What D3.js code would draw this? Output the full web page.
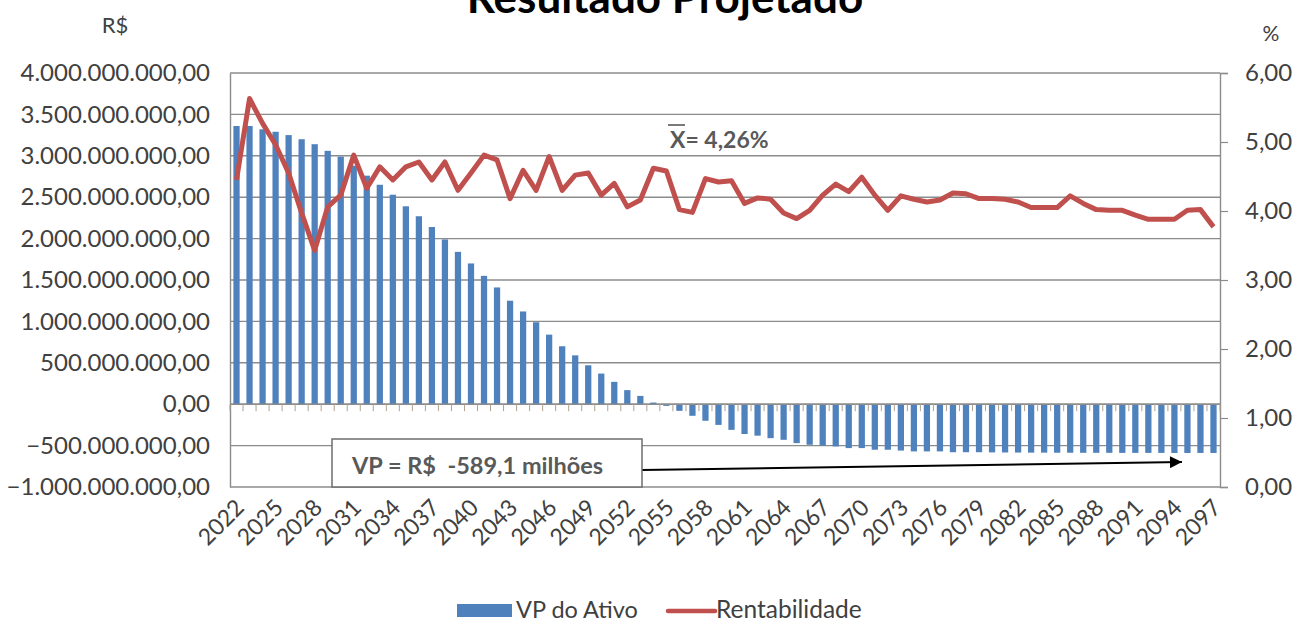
<!DOCTYPE html>
<html><head><meta charset="utf-8">
<script src="https://cdn.jsdelivr.net/npm/d3@7"></script>
<style>
html,body{margin:0;padding:0;background:#fff;}
svg{display:block;font-family:Lato,"Open Sans",sans-serif;}
</style></head>
<body><svg id="chart" width="1295" height="622"></svg>
<script>
const years = [2022,2023,2024,2025,2026,2027,2028,2029,2030,2031,
2032,2033,2034,2035,2036,2037,2038,2039,2040,2041,
2042,2043,2044,2045,2046,2047,2048,2049,2050,2051,
2052,2053,2054,2055,2056,2057,2058,2059,2060,2061,
2062,2063,2064,2065,2066,2067,2068,2069,2070,2071,
2072,2073,2074,2075,2076,2077,2078,2079,2080,2081,
2082,2083,2084,2085,2086,2087,2088,2089,2090,2091,
2092,2093,2094,2095,2096,2097];
// VP do Ativo, R$ millions
const vpAtivo = [3360,3360,3320,3290,3250,3200,3140,3060,2990,2880,
2760,2650,2530,2390,2270,2140,1990,1840,1700,1550,
1410,1250,1120,990,840,700,590,470,370,270,
170,100,20,-20,-80,-140,-200,-250,-310,-360,
-380,-410,-430,-470,-490,-500,-510,-530,-530,-550,
-550,-560,-570,-570,-570,-580,-580,-580,-582,-583,
-584,-585,-585,-586,-586,-587,-587,-587,-588,-588,
-588,-588,-589,-589,-589,-589];
// Rentabilidade, %
const rentabilidade = [4.45,5.63,5.27,4.96,4.55,3.97,3.43,4.06,4.23,4.81,
4.33,4.64,4.45,4.64,4.71,4.45,4.71,4.30,4.55,4.81,
4.74,4.18,4.59,4.30,4.79,4.30,4.52,4.55,4.23,4.40,
4.06,4.16,4.62,4.58,4.02,3.98,4.47,4.42,4.44,4.11,
4.19,4.17,3.97,3.89,4.01,4.23,4.39,4.28,4.49,4.23,
4.01,4.22,4.17,4.13,4.16,4.26,4.25,4.18,4.18,4.17,
4.13,4.05,4.05,4.05,4.22,4.11,4.02,4.01,4.01,3.94,
3.88,3.88,3.88,4.01,4.02,3.77];
const leftTicks = [-1000,-500,0,500,1000,1500,2000,2500,3000,3500,4000];
const rightTicks = [0,1,2,3,4,5,6];
const labelYears = years.filter((y,i)=> i%3===0);
const title = "Resultado Projetado";
const meanLabel = "= 4,26%";
const boxLabel = "VP = R$  -589,1 milhões";
const seriesNames = ["VP do Ativo","Rentabilidade"];

const svg = d3.select("#chart");
const L = 230, R = 1220, T = 73, B = 487;
const blue = "#4F81BD", red = "#C0504D", grid = "#8c8c8c", txt = "#404040";

const x = d3.scaleBand().domain(years).range([L,R]).paddingInner(0.52).paddingOuter(0.26);
const yL = d3.scaleLinear().domain([-1000,4000]).range([B,T]);
const yR = d3.scaleLinear().domain([0,6]).range([B,T]);

const ptBR = d3.formatLocale({decimal:",",thousands:".",grouping:[3],currency:["R$",""]});
const fmtL = v => ptBR.format(",.2f")(v*1e6);
const fmtR = v => ptBR.format(",.2f")(v);

// gridlines
svg.append("g").selectAll("line").data(leftTicks).join("line")
  .attr("x1",L).attr("x2",R).attr("y1",d=>yL(d)).attr("y2",d=>yL(d))
  .attr("stroke",grid).attr("stroke-width",1.4);

// left axis
const gL = svg.append("g").attr("transform",`translate(${L},0)`)
  .call(d3.axisLeft(yL).tickValues(leftTicks).tickFormat(fmtL).tickSize(0).tickPadding(20));
gL.select(".domain").attr("stroke",grid).attr("stroke-width",1.4);
gL.selectAll("text").attr("font-size",24).attr("fill",txt).attr("font-family","Lato");

// right axis
const gR = svg.append("g").attr("transform",`translate(${R},0)`)
  .call(d3.axisRight(yR).tickValues(rightTicks).tickFormat(fmtR).tickSize(8).tickPadding(17));
gR.select(".domain").attr("stroke",grid).attr("stroke-width",1.4);
gR.selectAll(".tick line").attr("stroke",grid).attr("stroke-width",1.2);
gR.selectAll("text").attr("font-size",24).attr("fill",txt).attr("font-family","Lato");

// bars
svg.append("g").selectAll("rect").data(years).join("rect")
  .attr("x",d=>x(d)).attr("width",x.bandwidth())
  .attr("y",(d,i)=>Math.min(yL(vpAtivo[i]),yL(0)))
  .attr("height",(d,i)=>Math.abs(yL(vpAtivo[i])-yL(0)))
  .attr("fill",blue);

// category axis at zero
const gX = svg.append("g").attr("transform",`translate(0,${yL(0)})`);
gX.append("line").attr("x1",L).attr("x2",R).attr("stroke",grid).attr("stroke-width",1.4);
gX.selectAll("line.tk").data(d3.range(years.length+1)).join("line").attr("class","tk")
  .attr("x1",i=>L+i*x.step()).attr("x2",i=>L+i*x.step()).attr("y1",0).attr("y2",7)
  .attr("stroke","#b0a090").attr("stroke-width",1);

// x labels
svg.append("g").selectAll("text").data(labelYears).join("text")
  .attr("transform",d=>`translate(${x(d)+x.bandwidth()/2+9},${B+22}) rotate(-45)`)
  .attr("text-anchor","end").attr("font-size",23).attr("fill",txt).text(d=>d);

// line
const line = d3.line().x((d,i)=>x(years[i])+x.bandwidth()/2).y(d=>yR(d));
svg.append("path").datum(rentabilidade).attr("d",line)
  .attr("fill","none").attr("stroke",red).attr("stroke-width",5).attr("stroke-linejoin","round");

// title & axis titles
svg.append("text").attr("x",665).attr("y",13).attr("text-anchor","middle")
  .attr("font-size",44).attr("font-weight","bold").attr("fill","#000").text(title);
svg.append("text").attr("x",115).attr("y",33).attr("text-anchor","middle")
  .attr("font-size",22).attr("fill",txt).text("R$");
svg.append("text").attr("x",1271).attr("y",41).attr("text-anchor","middle")
  .attr("font-size",21).attr("fill",txt).text("%");

// mean annotation
const mg = svg.append("g");
mg.append("text").attr("x",670).attr("y",148).attr("font-size",23).attr("font-weight","bold")
  .attr("fill","#595959").text("X" + meanLabel);
mg.append("line").attr("x1",668).attr("x2",685).attr("y1",125).attr("y2",125)
  .attr("stroke","#595959").attr("stroke-width",1.6);

// box annotation + arrow
svg.append("defs").append("marker").attr("id","ah").attr("viewBox","0 0 10 10")
  .attr("refX",10).attr("refY",5).attr("markerWidth",7).attr("markerHeight",6).attr("orient","auto")
  .attr("markerUnits","strokeWidth")
  .append("path").attr("d","M0,0L10,5L0,10Z").attr("fill","#000");
svg.append("line").attr("x1",642).attr("y1",470).attr("x2",1182).attr("y2",462)
  .attr("stroke","#000").attr("stroke-width",2).attr("marker-end","url(#ah)");
svg.append("rect").attr("x",332).attr("y",439).attr("width",310).attr("height",48)
  .attr("fill","#fff").attr("stroke","#6d6d6d").attr("stroke-width",1.5);
svg.append("text").attr("x",352).attr("y",474).attr("font-size",23.5).attr("font-weight","bold")
  .attr("fill","#595959").attr("xml:space","preserve").style("white-space","pre").text(boxLabel);

// legend
const lg = svg.append("g");
lg.append("rect").attr("x",457).attr("y",604).attr("width",55).attr("height",13).attr("fill",blue);
lg.append("text").attr("x",516).attr("y",618).attr("font-size",23.5).attr("fill",txt).text(seriesNames[0]);
lg.append("line").attr("x1",668).attr("x2",715).attr("y1",611).attr("y2",611)
  .attr("stroke",red).attr("stroke-width",4.5).attr("stroke-linecap","round");
lg.append("text").attr("x",716).attr("y",618).attr("font-size",24.5).attr("fill",txt).text(seriesNames[1]);
</script></body></html>
